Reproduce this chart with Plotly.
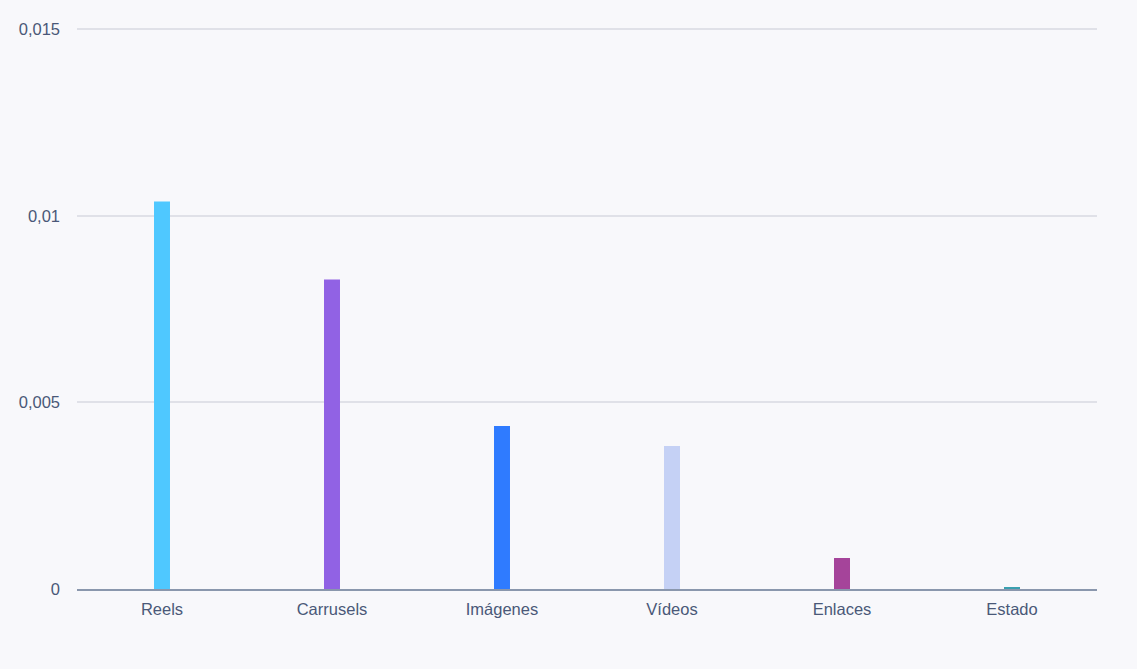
import plotly.graph_objects as go

categories = ["Reels", "Carrusels", "Imágenes", "Vídeos", "Enlaces", "Estado"]
values = [0.01038, 0.00829, 0.00437, 0.00383, 0.00083, 0.00005]
colors = ["#4fc8ff", "#9162e4", "#2f7bff", "#c5d1f5", "#a5449a", "#3aa0b0"]

fig = go.Figure(go.Bar(
    x=categories, y=values, marker_color=colors, marker_line_width=0, width=0.094,
    hoverinfo="x+y"))

fig.update_layout(
    width=1137, height=669,
    margin=dict(l=77, r=40, t=28, b=80),
    paper_bgcolor="#f8f8fb", plot_bgcolor="#f8f8fb",
    separators=",.",
    font=dict(family="Liberation Sans", size=16, color="#4a5878"),
    showlegend=False,
)
fig.update_xaxes(showgrid=False, showline=True, linecolor="#8a97ad", linewidth=2,
                 ticks="", ticklabelstandoff=4, tickfont=dict(size=16.5, color="#4a5878"))
fig.update_yaxes(range=[0, 0.01503], tickvals=[0, 0.005, 0.01, 0.015],
                 gridcolor="#e0e1e8", gridwidth=1.5, zeroline=False,
                 ticks="", ticklabelstandoff=16, tickfont=dict(size=16.5, color="#4a5878"))

fig.write_html("out.html")
